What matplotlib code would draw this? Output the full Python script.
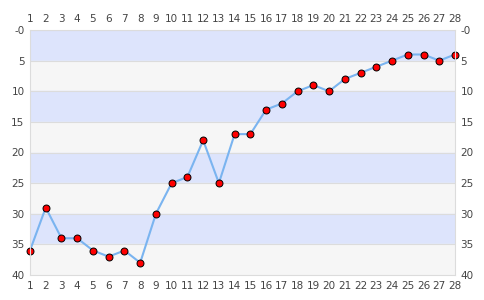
import matplotlib
matplotlib.use("Agg")
import matplotlib.pyplot as plt

# position per round (1..28), lower is better
rounds = list(range(1, 29))
positions = [36, 29, 34, 34, 36, 37, 36, 38, 30, 25, 24, 18, 25, 17,
             17, 13, 12, 10, 9, 10, 8, 7, 6, 5, 4, 4, 5, 4]
y_ticks = [0, 5, 10, 15, 20, 25, 30, 35, 40]
y_labels = ["-0", "5", "10", "15", "20", "25", "30", "35", "40"]

fig = plt.figure(figsize=(4.85, 3.0), dpi=100)
ax = fig.add_axes([30 / 485, 25 / 300, 425 / 485, 245 / 300])

# alternating bands
for i, lo in enumerate(range(0, 40, 5)):
    ax.axhspan(lo, lo + 5, color="#dde4fc" if i % 2 == 0 else "#f6f6f6", zorder=0)
    ax.axhline(lo, color="#dcdcdc", lw=0.8, zorder=1)

ax.plot(rounds, positions, color="#7ab4f0", lw=1.5, zorder=2,
        marker="o", markersize=5, markerfacecolor="#ff0000",
        markeredgecolor="black", markeredgewidth=0.7, clip_on=False)

ax.set_xlim(1, 28)
ax.set_ylim(40, 0)
ax.set_xticks(rounds)
ax.set_yticks(y_ticks)
ax.set_yticklabels(y_labels)
ax.tick_params(length=0, labelsize=7.5, labelcolor="#444444",
               top=True, labeltop=True, right=True, labelright=True, pad=4)
for s in ax.spines.values():
    s.set_color("#dcdcdc")

fig.savefig("out.png", dpi=100)
